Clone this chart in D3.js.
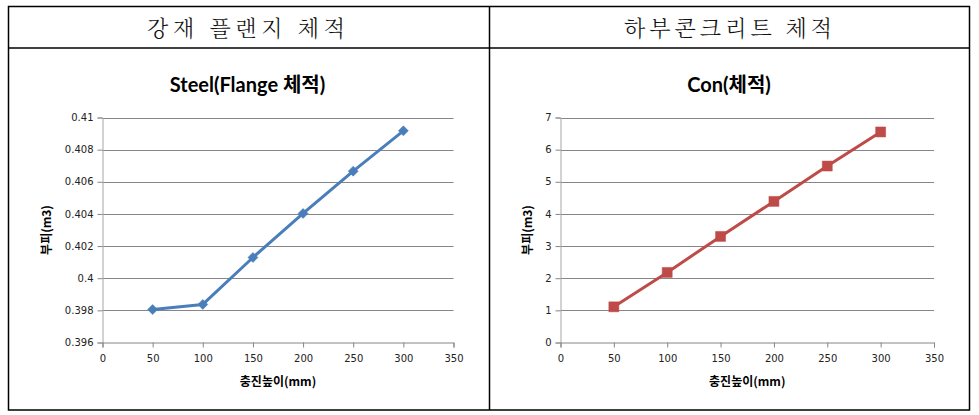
<!DOCTYPE html>
<html><head><meta charset="utf-8">
<script src="https://cdn.jsdelivr.net/npm/d3@7"></script>
<style>body{margin:0;background:#fff}svg{display:block}</style>
</head><body>
<svg id="c" width="979" height="415"></svg>
<script>
const headers = ["강재 플랜지 체적", "하부콘크리트 체적"];
const titles = ["Steel(Flange 체적)", "Con(체적)"];
const xValues = [50, 100, 150, 200, 250, 300];
const steelValues = [0.39805, 0.39837, 0.40129, 0.40403, 0.40666, 0.40917];
const conValues = [1.11, 2.18, 3.30, 4.39, 5.49, 6.55];
const xTicks = [0, 50, 100, 150, 200, 250, 300, 350];
const steelTicks = [0.396, 0.398, 0.4, 0.402, 0.404, 0.406, 0.408, 0.41];
const conTicks = [0, 1, 2, 3, 4, 5, 6, 7];
const xTitle = "충진높이(mm)";
const yTitle = "부피(m3)";

const svg = d3.select("#c");
// table frame
const frame = svg.append("g").attr("stroke", "#000").attr("stroke-width", 1.5).attr("fill", "none");
frame.append("rect").attr("x", 8.5).attr("y", 6.5).attr("width", 961).attr("height", 403.5);
frame.append("line").attr("x1", 8.5).attr("x2", 969.5).attr("y1", 48).attr("y2", 48);
frame.append("line").attr("x1", 489.5).attr("x2", 489.5).attr("y1", 6.5).attr("y2", 410);

const headerPos = [{cx: 246, len: 198}, {cx: 728, len: 208}];
headers.forEach((h, i) => {
  svg.append("text").attr("x", headerPos[i].cx).attr("y", 36)
    .attr("text-anchor", "middle")
    .attr("font-family", "'Noto Serif CJK KR','Noto Sans CJK KR',serif")
    .attr("font-weight", 300)
    .attr("font-size", 22).attr("fill", "#111")
    .attr("textLength", headerPos[i].len).attr("lengthAdjust", "spacing")
    .text(h);
});

function chart(cfg) {
  const g = svg.append("g");
  const x = d3.scaleLinear().domain([0, 350]).range([cfg.x0, cfg.x1]);
  const y = d3.scaleLinear().domain(cfg.ydom).range([cfg.y1, cfg.y0]);
  // gridlines
  g.append("g").selectAll("line").data(cfg.yTicks.slice(1)).join("line")
    .attr("x1", cfg.x0).attr("x2", cfg.x1)
    .attr("y1", d => Math.round(y(d)) + 0.5).attr("y2", d => Math.round(y(d)) + 0.5)
    .attr("stroke", "#868686").attr("stroke-width", 1);
  // y axis
  const ya = g.append("g").attr("transform", `translate(${cfg.x0},0)`)
    .call(d3.axisLeft(y).tickValues(cfg.yTicks).tickSize(5).tickPadding(4).tickFormat(cfg.yFmt));
  ya.select(".domain").attr("stroke", "#a6a6a6");
  ya.selectAll(".tick line").attr("stroke", "#868686");
  ya.selectAll("text").attr("font-family", "'DejaVu Sans',sans-serif").attr("font-size", 10).attr("fill", "#222");
  // x axis
  const xa = g.append("g").attr("transform", `translate(0,${cfg.y1})`)
    .call(d3.axisBottom(x).tickValues(xTicks).tickSize(5).tickPadding(7));
  xa.select(".domain").attr("stroke", "#868686");
  xa.selectAll(".tick line").attr("stroke", "#868686");
  xa.selectAll("text").attr("font-family", "'DejaVu Sans',sans-serif").attr("font-size", 10).attr("fill", "#222");
  // title
  g.append("text").attr("x", cfg.tcx).attr("y", 92).attr("text-anchor", "middle")
    .attr("font-family", "Lato,'Noto Sans CJK KR',sans-serif").attr("font-weight", "bold")
    .attr("font-size", 20).attr("fill", "#000").text(cfg.title);
  // axis titles
  g.append("text").attr("x", (cfg.x0 + cfg.x1) / 2).attr("y", 386).attr("text-anchor", "middle")
    .attr("font-family", "'Noto Sans CJK KR',sans-serif").attr("font-weight", "bold")
    .attr("font-size", 12).attr("fill", "#000").text(xTitle);
  g.append("text").attr("transform", `translate(${cfg.ytx},${(cfg.y0 + cfg.y1) / 2}) rotate(-90)`)
    .attr("text-anchor", "middle").attr("dy", "0.35em")
    .attr("font-family", "'Noto Sans CJK KR',sans-serif").attr("font-weight", "bold")
    .attr("font-size", 12).attr("fill", "#000").text(yTitle);
  // line
  const pts = xValues.map((v, i) => [v, cfg.values[i]]);
  g.append("path").datum(pts)
    .attr("d", d3.line().x(d => x(d[0])).y(d => y(d[1])))
    .attr("fill", "none").attr("stroke", cfg.color).attr("stroke-width", 3)
    .attr("stroke-linejoin", "round");
  g.append("g").selectAll("path").data(pts).join("path")
    .attr("transform", d => `translate(${x(d[0])},${y(d[1])}) rotate(${cfg.rot})`)
    .attr("d", d3.symbol().type(d3.symbolSquare).size(cfg.symSize))
    .attr("fill", cfg.color).attr("stroke", cfg.color).attr("stroke-width", 0.5);
}

chart({x0: 102.5, x1: 453.5, y0: 117.5, y1: 342.5, ydom: [0.396, 0.41], yTicks: steelTicks,
  yFmt: d => d3.format("")(+d.toFixed(3)), values: steelValues, color: "#4a7ebb",
  rot: 45, symSize: 50, title: titles[0], tcx: 247.5, ytx: 47});
chart({x0: 560.5, x1: 934, y0: 117.5, y1: 342.5, ydom: [0, 7], yTicks: conTicks,
  yFmt: d => d, values: conValues, color: "#be4b48",
  rot: 0, symSize: 100, title: titles[1], tcx: 729, ytx: 528});
</script>
</body></html>
